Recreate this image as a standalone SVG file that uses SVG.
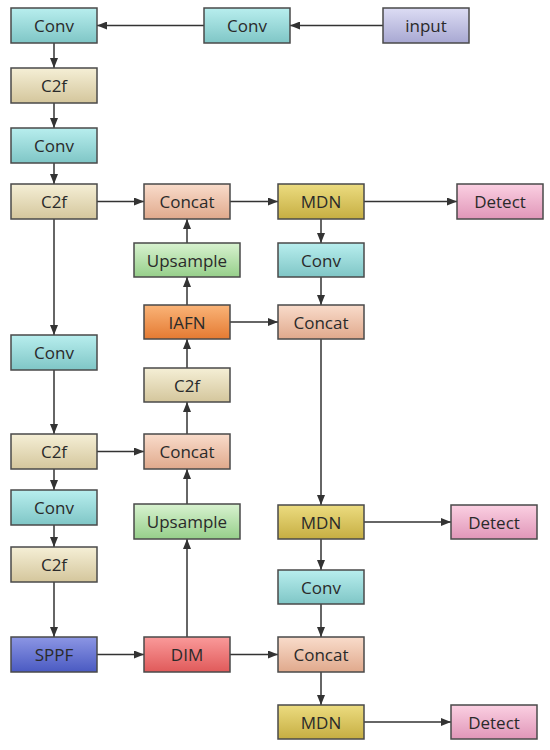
<svg xmlns="http://www.w3.org/2000/svg" width="550" height="750" viewBox="0 0 550 750">
<defs>
<linearGradient id="gConv" x1="0" y1="0" x2="0" y2="1"><stop offset="0" stop-color="#b8eeee"/><stop offset="1" stop-color="#7fc6c6"/></linearGradient>
<linearGradient id="gC2f" x1="0" y1="0" x2="0" y2="1"><stop offset="0" stop-color="#f5efd6"/><stop offset="1" stop-color="#d4c69c"/></linearGradient>
<linearGradient id="gConcat" x1="0" y1="0" x2="0" y2="1"><stop offset="0" stop-color="#f9dccb"/><stop offset="1" stop-color="#e0a98c"/></linearGradient>
<linearGradient id="gUp" x1="0" y1="0" x2="0" y2="1"><stop offset="0" stop-color="#d8f2d0"/><stop offset="1" stop-color="#96cf8a"/></linearGradient>
<linearGradient id="gMDN" x1="0" y1="0" x2="0" y2="1"><stop offset="0" stop-color="#ecdc80"/><stop offset="1" stop-color="#c6ae42"/></linearGradient>
<linearGradient id="gDet" x1="0" y1="0" x2="0" y2="1"><stop offset="0" stop-color="#fbd0e2"/><stop offset="1" stop-color="#e096b8"/></linearGradient>
<linearGradient id="gIAFN" x1="0" y1="0" x2="0" y2="1"><stop offset="0" stop-color="#fab478"/><stop offset="1" stop-color="#e47a32"/></linearGradient>
<linearGradient id="gSPPF" x1="0" y1="0" x2="0" y2="1"><stop offset="0" stop-color="#8c96e4"/><stop offset="1" stop-color="#4a5ac2"/></linearGradient>
<linearGradient id="gDIM" x1="0" y1="0" x2="0" y2="1"><stop offset="0" stop-color="#fa9a9a"/><stop offset="1" stop-color="#e05a5a"/></linearGradient>
<linearGradient id="gIn" x1="0" y1="0" x2="0" y2="1"><stop offset="0" stop-color="#dcdcf4"/><stop offset="1" stop-color="#a8a8d2"/></linearGradient>
<marker id="ah" markerWidth="10" markerHeight="8" refX="10" refY="4" orient="auto" markerUnits="userSpaceOnUse"><path d="M0,0 L10,4 L0,8 Z" fill="#333"/></marker>
</defs>
<style>
.n rect{stroke:#4a4a4a;stroke-width:1.5}
.n text{font-family:"Open Sans","Noto Sans","DejaVu Sans",sans-serif;font-size:17px;fill:#2a2a2a;text-anchor:middle;dominant-baseline:central}
#edges line{stroke:#333;stroke-width:1.5;marker-end:url(#ah)}
</style>
<rect width="550" height="750" fill="#fff"/>
<g id="edges">
<line x1="383" y1="25.5" x2="290" y2="25.5"/>
<line x1="204" y1="25.5" x2="97" y2="25.5"/>
<line x1="54" y1="43" x2="54" y2="68"/>
<line x1="54" y1="103" x2="54" y2="128"/>
<line x1="54" y1="163" x2="54" y2="184"/>
<line x1="97" y1="201.5" x2="144" y2="201.5"/>
<line x1="54" y1="219" x2="54" y2="335"/>
<line x1="54" y1="370" x2="54" y2="434"/>
<line x1="97" y1="451.5" x2="144" y2="451.5"/>
<line x1="54" y1="469" x2="54" y2="490"/>
<line x1="54" y1="525" x2="54" y2="547"/>
<line x1="54" y1="582" x2="54" y2="637"/>
<line x1="97" y1="654.5" x2="144" y2="654.5"/>
<line x1="187" y1="637" x2="187" y2="539"/>
<line x1="187" y1="504" x2="187" y2="469"/>
<line x1="187" y1="434" x2="187" y2="402"/>
<line x1="187" y1="368" x2="187" y2="339"/>
<line x1="187" y1="305" x2="187" y2="277"/>
<line x1="187" y1="243" x2="187" y2="219"/>
<line x1="230" y1="201.5" x2="278" y2="201.5"/>
<line x1="364" y1="201.5" x2="457" y2="201.5"/>
<line x1="321" y1="219" x2="321" y2="243"/>
<line x1="321" y1="277" x2="321" y2="305"/>
<line x1="230" y1="322" x2="278" y2="322"/>
<line x1="321" y1="339" x2="321" y2="505"/>
<line x1="364" y1="522" x2="451" y2="522"/>
<line x1="321" y1="539" x2="321" y2="570"/>
<line x1="321" y1="604" x2="321" y2="637"/>
<line x1="230" y1="654.5" x2="278" y2="654.5"/>
<line x1="321" y1="672" x2="321" y2="705"/>
<line x1="364" y1="722" x2="451" y2="722"/>
</g>
<g id="input" class="n"><rect x="383" y="8" width="86" height="35" fill="url(#gIn)"/><text x="426" y="25.5">input</text></g>
<g id="conv0" class="n"><rect x="204" y="8" width="86" height="35" fill="url(#gConv)"/><text x="247" y="25.5">Conv</text></g>
<g id="conv1" class="n"><rect x="11" y="8" width="86" height="35" fill="url(#gConv)"/><text x="54" y="25.5">Conv</text></g>
<g id="c2f1" class="n"><rect x="11" y="68" width="86" height="35" fill="url(#gC2f)"/><text x="54" y="85.5">C2f</text></g>
<g id="conv2" class="n"><rect x="11" y="128" width="86" height="35" fill="url(#gConv)"/><text x="54" y="145.5">Conv</text></g>
<g id="c2f2" class="n"><rect x="11" y="184" width="86" height="35" fill="url(#gC2f)"/><text x="54" y="201.5">C2f</text></g>
<g id="conv3" class="n"><rect x="11" y="335" width="86" height="35" fill="url(#gConv)"/><text x="54" y="352.5">Conv</text></g>
<g id="c2f3" class="n"><rect x="11" y="434" width="86" height="35" fill="url(#gC2f)"/><text x="54" y="451.5">C2f</text></g>
<g id="conv4" class="n"><rect x="11" y="490" width="86" height="35" fill="url(#gConv)"/><text x="54" y="507.5">Conv</text></g>
<g id="c2f4" class="n"><rect x="11" y="547" width="86" height="35" fill="url(#gC2f)"/><text x="54" y="564.5">C2f</text></g>
<g id="sppf" class="n"><rect x="11" y="637" width="86" height="35" fill="url(#gSPPF)"/><text x="54" y="654.5">SPPF</text></g>
<g id="concat1" class="n"><rect x="144" y="184" width="86" height="35" fill="url(#gConcat)"/><text x="187" y="201.5">Concat</text></g>
<g id="upsample1" class="n"><rect x="134" y="243" width="106" height="34" fill="url(#gUp)"/><text x="187" y="260">Upsample</text></g>
<g id="iafn" class="n"><rect x="144" y="305" width="86" height="34" fill="url(#gIAFN)"/><text x="187" y="322">IAFN</text></g>
<g id="c2f5" class="n"><rect x="144" y="368" width="86" height="34" fill="url(#gC2f)"/><text x="187" y="385">C2f</text></g>
<g id="concat2" class="n"><rect x="144" y="434" width="86" height="35" fill="url(#gConcat)"/><text x="187" y="451.5">Concat</text></g>
<g id="upsample2" class="n"><rect x="134" y="504" width="106" height="35" fill="url(#gUp)"/><text x="187" y="521.5">Upsample</text></g>
<g id="dim" class="n"><rect x="144" y="637" width="86" height="35" fill="url(#gDIM)"/><text x="187" y="654.5">DIM</text></g>
<g id="mdn1" class="n"><rect x="278" y="184" width="86" height="35" fill="url(#gMDN)"/><text x="321" y="201.5">MDN</text></g>
<g id="conv5" class="n"><rect x="278" y="243" width="86" height="34" fill="url(#gConv)"/><text x="321" y="260">Conv</text></g>
<g id="concat3" class="n"><rect x="278" y="305" width="86" height="34" fill="url(#gConcat)"/><text x="321" y="322">Concat</text></g>
<g id="mdn2" class="n"><rect x="278" y="505" width="86" height="34" fill="url(#gMDN)"/><text x="321" y="522">MDN</text></g>
<g id="conv6" class="n"><rect x="278" y="570" width="86" height="34" fill="url(#gConv)"/><text x="321" y="587">Conv</text></g>
<g id="concat4" class="n"><rect x="278" y="637" width="86" height="35" fill="url(#gConcat)"/><text x="321" y="654.5">Concat</text></g>
<g id="mdn3" class="n"><rect x="278" y="705" width="86" height="34" fill="url(#gMDN)"/><text x="321" y="722">MDN</text></g>
<g id="detect1" class="n"><rect x="457" y="184" width="86" height="35" fill="url(#gDet)"/><text x="500" y="201.5">Detect</text></g>
<g id="detect2" class="n"><rect x="451" y="505" width="86" height="34" fill="url(#gDet)"/><text x="494" y="522">Detect</text></g>
<g id="detect3" class="n"><rect x="451" y="705" width="86" height="34" fill="url(#gDet)"/><text x="494" y="722">Detect</text></g>
</svg>
